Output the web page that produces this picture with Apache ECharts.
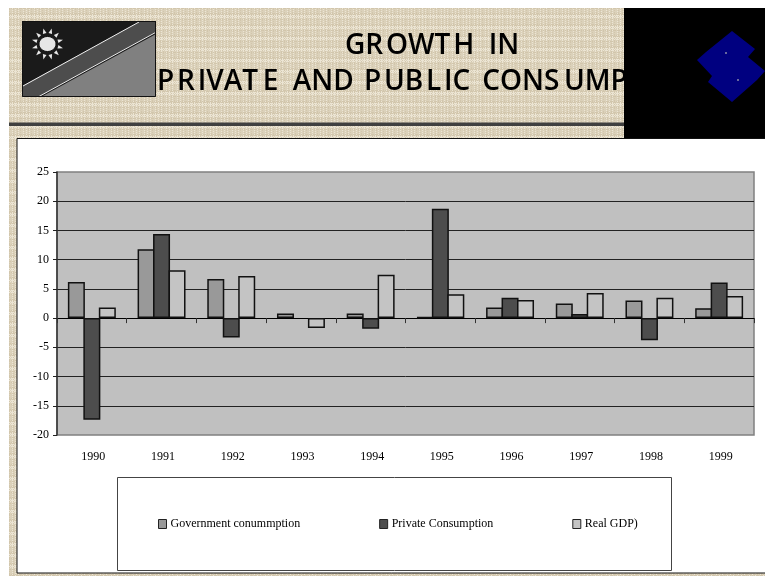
<!DOCTYPE html>
<html>
<head>
<meta charset="utf-8">
<script src="https://cdn.jsdelivr.net/npm/echarts@6/dist/echarts.min.js"></script>
<style>html,body{margin:0;padding:0;background:#fff}#chart{width:765px;height:576px}</style>
</head>
<body>
<div id="chart"></div>
<script>
const years = ['1990','1991','1992','1993','1994','1995','1996','1997','1998','1999'];
const governmentValues = [6.2, 11.8, 6.7, 0.8, 0.8, 0.2, 1.8, 2.5, 3.0, 1.7];
const privateValues = [-17.4, 14.4, -3.3, null, -1.8, 18.7, 3.5, 0.7, -3.8, 6.1];
const gdpValues = [1.8, 8.2, 7.2, -1.7, 7.4, 4.1, 3.1, 4.3, 3.5, 3.8];
const seriesNames = ['Government conummption', 'Private Consumption', 'Real GDP)'];
const seriesColors = ['#999999', '#4d4d4d', '#c4c4c4'];

// Woven burlap tile for the slide background: pale warp and weft threads
function burlapTile() {
  const size = 44, c = document.createElement('canvas');
  c.width = c.height = size;
  const g = c.getContext('2d');
  g.fillStyle = '#e0d8c5';
  g.fillRect(0, 0, size, size);
  const warp = [0, 1, 2, 0, 1, 0, 2, 1, 0, 2, 0];
  const tone = ['#dbd1ba', '#ece5d4', '#d2c6ac'];
  for (let y = 0; y < size; y++) {
    for (let x = 0; x < size; x++) {
      const over = (x + y) % 2 === 0;
      g.fillStyle = tone[over ? warp[x % 11] : warp[(y * 3) % 11]];
      g.fillRect(x, y, 1, 1);
    }
  }
  return c;
}

// Sun rays around the flag's disc
function sunRays(cx, cy) {
  const out = [];
  for (let i = 0; i < 12; i++) {
    const a = i * Math.PI / 6 + Math.PI / 12;
    const p = (r, d) => [cx + r * Math.cos(a + d), cy + r * Math.sin(a + d)];
    out.push({ type: 'polygon', z: -5, shape: { points: [p(11, -0.17), p(11, 0.17), p(16, 0)] }, style: { fill: '#e8e8e8' } });
  }
  return out;
}

const whiteEdge = (x1, y1, x2, y2) => ({
  type: 'line', z: -5, shape: { x1, y1, x2, y2 }, style: { stroke: '#f0f0f0', lineWidth: 1 }
});

const decoration = [
  { type: 'rect', z: -10, shape: { x: 9, y: 8, width: 756, height: 568 }, style: { fill: { image: burlapTile(), repeat: 'repeat' } } },
  { type: 'rect', z: -9, shape: { x: 9, y: 122.5, width: 620, height: 3.5 }, style: { fill: '#404040' } },

  // Flag
  { type: 'rect', z: -6, shape: { x: 22, y: 21, width: 134, height: 76 }, style: { fill: '#1a1a1a' } },
  { type: 'polygon', z: -6, shape: { points: [[22, 86], [139, 22], [156, 22], [156, 32], [38, 97], [22, 97]] }, style: { fill: '#4d4d4d' } },
  { type: 'polygon', z: -6, shape: { points: [[156, 34], [156, 97], [41, 97]] }, style: { fill: '#808080' } },
  whiteEdge(23, 86, 139, 22),
  whiteEdge(39, 96.5, 155.5, 32.5),
  { type: 'rect', z: -5, shape: { x: 22.5, y: 21.5, width: 133, height: 75 }, style: { fill: 'none', stroke: '#111', lineWidth: 1 } },
  ...sunRays(47.5, 44),
  { type: 'ellipse', z: -5, shape: { cx: 47.5, cy: 44, rx: 8.5, ry: 7.5 }, style: { fill: '#e6e6e6', stroke: '#111', lineWidth: 1 } },

  // Slide heading, its second line runs behind the black logo block
  { type: 'text', z: -8, style: { x: 345, y: 46, text: 'GR\u200aOWT\u200aH  IN', fill: '#000', font: '600 28px "Open Sans"', textAlign: 'left', textVerticalAlign: 'middle' } },
  { type: 'text', z: -8, style: { x: 157, y: 82, text: 'P\u200aR\u200aIVAT\u2009E  AND \u200aP\u200aUB\u200aL\u200aIC \u2009CONS\u2009UMPTION', fill: '#000', font: '600 28px "Open Sans"', textAlign: 'left', textVerticalAlign: 'middle' } },

  // Logo block
  { type: 'rect', z: -7, shape: { x: 624, y: 8, width: 141, height: 130 }, style: { fill: '#000' } },
  { type: 'polygon', z: -6, shape: { points: [[732, 31], [755, 49], [748, 57], [765, 71], [757, 80], [732, 102], [708, 82], [712, 76], [697, 60], [706, 52]] }, style: { fill: '#000080' } },
  { type: 'circle', z: -5, shape: { cx: 726, cy: 53, r: 1 }, style: { fill: '#8a8aa8' } },
  { type: 'circle', z: -5, shape: { cx: 738, cy: 80, r: 1 }, style: { fill: '#8a8aa8' } },

  // Chart panel and legend frame
  { type: 'rect', z: -4, shape: { x: 17, y: 138.5, width: 760, height: 434.5 }, style: { fill: '#fff', stroke: '#111', lineWidth: 1 } },
  { type: 'rect', z: -3, shape: { x: 117.5, y: 477.5, width: 554, height: 93 }, style: { fill: '#fff', stroke: '#444', lineWidth: 1 } }
];

const serifFont = '"Liberation Serif"';
const barBase = { type: 'bar', barGap: '-9%', barWidth: 17, xAxisIndex: 0, yAxisIndex: 0 };
const edge = { borderColor: '#111', borderWidth: 1.5 };

const chart = echarts.init(document.getElementById('chart'), null, { renderer: 'canvas' });
chart.setOption({
  animation: false,
  backgroundColor: 'transparent',
  graphic: { elements: decoration },
  grid: { left: 57, right: 11, top: 172, height: 263, show: true, backgroundColor: '#c0c0c0', borderColor: '#808080', borderWidth: 1.5 },
  legend: {
    left: 158, top: 518, padding: 0, itemWidth: 8, itemHeight: 9, itemGap: 79,
    icon: 'rect', data: seriesNames,
    itemStyle: { borderColor: '#222', borderWidth: 1 },
    textStyle: { fontFamily: serifFont, fontSize: 12, color: '#000', padding: [0, 0, 0, -1] }
  },
  xAxis: [
    {
      type: 'category', data: years, position: 'bottom',
      axisLine: { onZero: true, lineStyle: { color: '#000', width: 1 } },
      axisTick: { show: true, length: 5, alignWithLabel: false, lineStyle: { color: '#333', width: 1 } },
      axisLabel: { show: false }, splitLine: { show: false }
    },
    {
      type: 'category', data: years, position: 'bottom',
      axisLine: { show: false, onZero: false }, axisTick: { show: false },
      axisLabel: { show: true, margin: 16, padding: [0, 0, 0, 3], fontFamily: serifFont, fontSize: 12, color: '#000', interval: 0 },
      splitLine: { show: false }
    }
  ],
  yAxis: {
    type: 'value', min: -20, max: 25, interval: 5,
    axisLine: { show: true, lineStyle: { color: '#333', width: 1.5 } },
    axisTick: { show: true, length: 4, lineStyle: { color: '#222' } },
    axisLabel: { margin: 8, fontFamily: serifFont, fontSize: 12, color: '#000' },
    splitLine: { show: true, showMinLine: false, showMaxLine: false, lineStyle: { color: '#222', width: 1 } }
  },
  series: [
    { ...barBase, name: seriesNames[0], data: governmentValues, itemStyle: { color: seriesColors[0], ...edge } },
    { ...barBase, name: seriesNames[1], data: privateValues, itemStyle: { color: seriesColors[1], ...edge } },
    { ...barBase, name: seriesNames[2], data: gdpValues, itemStyle: { color: seriesColors[2], ...edge } }
  ]
});
</script>
</body>
</html>
